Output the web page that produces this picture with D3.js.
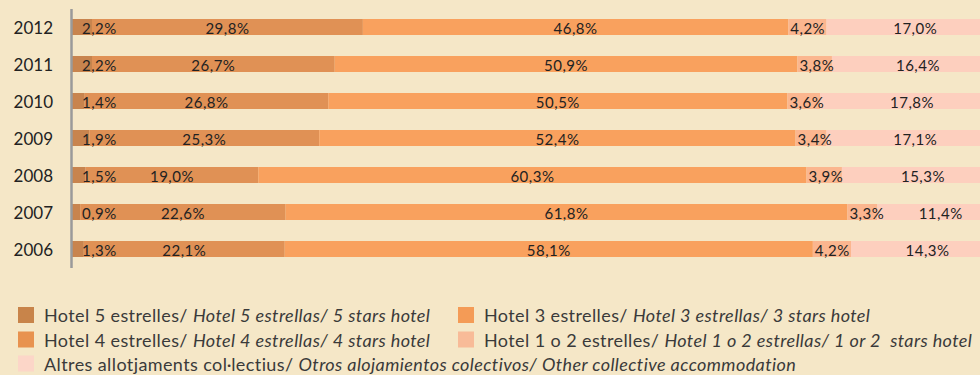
<!DOCTYPE html>
<html>
<head>
<meta charset="utf-8">
<script src="https://cdn.jsdelivr.net/npm/d3@7"></script>
<style>
  html, body { margin: 0; padding: 0; background: #F5E7C7; }
  svg { display: block; }
  text { font-family: Lato, "Open Sans", sans-serif; }
</style>
</head>
<body>
<svg id="chart" width="980" height="375"></svg>
<script>
// Share of overnight stays by accommodation type, per year (%)
const years   = ["2012", "2011", "2010", "2009", "2008", "2007", "2006"];
const hotel5  = [2.2, 2.2, 1.4, 1.9, 1.5, 0.9, 1.3];
const hotel4  = [29.8, 26.7, 26.8, 25.3, 19.0, 22.6, 22.1];
const hotel3  = [46.8, 50.9, 50.5, 52.4, 60.3, 61.8, 58.1];
const hotel12 = [4.2, 3.8, 3.6, 3.4, 3.9, 3.3, 4.2];
const other   = [17.0, 16.4, 17.8, 17.1, 15.3, 11.4, 14.3];

const seriesKeys = ["h5", "h4", "h3", "h12", "oth"];
const colors = ["#C8844E", "#E09155", "#F9A15E", "#FBB68F", "#FDCFBE"];
const swatchColors = ["#C8844A", "#E8924F", "#F49B56", "#F8BB98", "#FCD6C8"];

const legendItems = [
  { plain: "Hotel 5 estrelles/ ", italic: "Hotel 5 estrellas/ 5 stars hotel" },
  { plain: "Hotel 4 estrelles/ ", italic: "Hotel 4 estrellas/ 4 stars hotel" },
  { plain: "Hotel 3 estrelles/ ", italic: "Hotel 3 estrellas/ 3 stars hotel" },
  { plain: "Hotel 1 o 2 estrelles/ ", italic: "Hotel 1 o 2 estrellas/ 1 or 2  stars hotel" },
  { plain: "Altres allotjaments col·lectius/ ", italic: "Otros alojamientos colectivos/ Other collective accommodation" }
];

const rows = years.map((y, i) => ({
  year: y, h5: hotel5[i], h4: hotel4[i], h3: hotel3[i], h12: hotel12[i], oth: other[i]
}));

const svg = d3.select("#chart");

const x = d3.scaleLinear().domain([0, 100]).range([72, 981]);
const y = d3.scaleBand().domain(years).range([19, 257]).paddingInner(0.5676).paddingOuter(0);

const stacked = d3.stack().keys(seriesKeys)(rows);

// Stacked bars
const layers = svg.append("g").selectAll("g")
  .data(stacked).join("g")
  .attr("fill", (d, i) => colors[i]);

layers.selectAll("rect")
  .data(d => d)
  .join("rect")
  .attr("x", d => x(d[0]))
  .attr("y", d => y(d.data.year))
  .attr("width", d => x(d[1]) - x(d[0]))
  .attr("height", y.bandwidth());

// Value labels
const fmt = v => d3.format(".1f")(v).replace(".", ",") + "%";
const labelG = svg.append("g")
  .attr("font-size", 15)
  .attr("letter-spacing", 0.5)
  .attr("fill", "#222");

stacked.forEach((layer, li) => {
  labelG.selectAll(null)
    .data(layer)
    .join("text")
    .attr("y", d => y(d.data.year) + 15)
    .attr("x", d => {
      const x0 = x(d[0]), x1 = x(d[1]);
      if (li === 0) return x(0) + 10;
      if (li === 3) return x0 + 2;
      if (li === 4) return (x0 + Math.max(x1, 990)) / 2 + 7;
      return (x0 + x1) / 2;
    })
    .attr("text-anchor", li === 0 || li === 3 ? "start" : "middle")
    .text(d => fmt(d.data[seriesKeys[li]]));
});

// Year axis
const yAxis = svg.append("g")
  .attr("transform", "translate(71,0)")
  .call(d3.axisLeft(y).tickSize(0).tickPadding(18));
yAxis.select(".domain").remove();
yAxis.selectAll("text")
  .attr("font-family", "Lato, 'Open Sans', sans-serif")
  .attr("font-size", 17)
  .attr("fill", "#222")
  .attr("dy", null)
  .attr("y", 7);

svg.append("line")
  .attr("x1", 71.5).attr("x2", 71.5)
  .attr("y1", 9).attr("y2", 268)
  .attr("stroke", "#9A9A9A")
  .attr("stroke-width", 2.5);

// Legend
const legendPos = [
  { col: 0, row: 0 }, { col: 0, row: 1 }, { col: 1, row: 0 }, { col: 1, row: 1 }, { col: 0, row: 2 }
];
const colX = [18, 458];
const rowY = [307, 331.5, 355.5];

const legend = svg.append("g");
legendItems.forEach((item, i) => {
  const p = legendPos[i];
  const g = legend.append("g")
    .attr("transform", `translate(${colX[p.col]},${rowY[p.row]})`);
  g.append("rect")
    .attr("width", 16).attr("height", 16)
    .attr("fill", swatchColors[i]);
  const t = g.append("text")
    .attr("x", 26).attr("y", 15)
    .attr("font-size", 18)
    .attr("letter-spacing", 0.4)
    .attr("fill", "#3A3A3A")
    .style("white-space", "pre");
  t.append("tspan").text(item.plain);
  t.append("tspan").attr("font-style", "italic").text(item.italic);
});
</script>
</body>
</html>
